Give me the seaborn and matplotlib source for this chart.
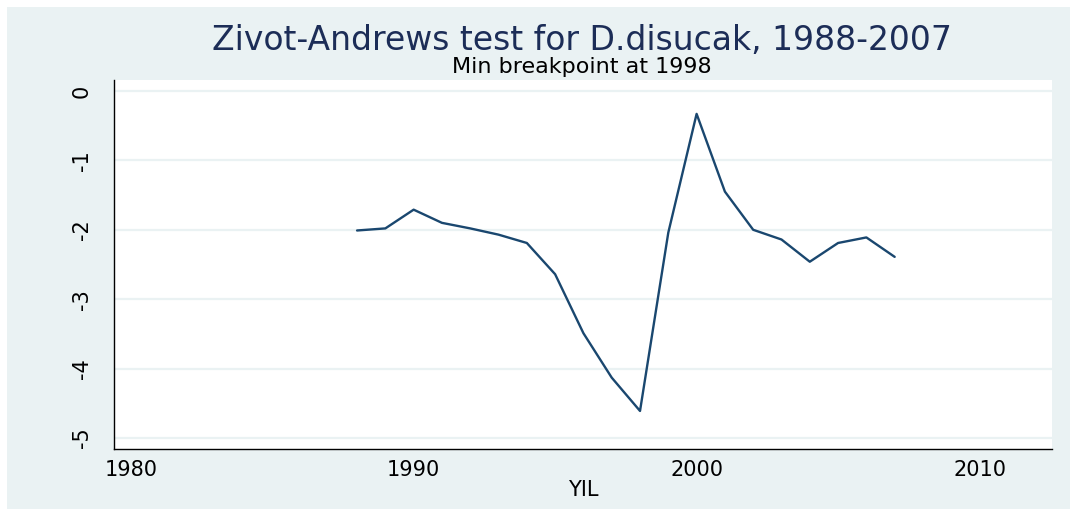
import matplotlib
matplotlib.use("Agg")
import matplotlib.pyplot as plt
from matplotlib.patches import Rectangle
import pandas as pd
import seaborn as sns

# Zivot-Andrews break test statistics by candidate break year
years = [1988, 1989, 1990, 1991, 1992, 1993, 1994, 1995, 1996, 1997,
         1998, 1999, 2000, 2001, 2002, 2003, 2004, 2005, 2006, 2007]
za_stat = [-2.01, -1.98, -1.71, -1.90, -1.98, -2.07, -2.19, -2.64, -3.49, -4.13,
           -4.61, -2.04, -0.33, -1.45, -2.00, -2.14, -2.46, -2.19, -2.11, -2.39]
x_ticks = [1980, 1990, 2000, 2010]
y_ticks = [0, -1, -2, -3, -4, -5]

title = "Zivot-Andrews test for D.disucak, 1988-2007"
subtitle = "Min breakpoint at 1998"
x_label = "YIL"

df = pd.DataFrame({"YIL": years, "stat": za_stat})

sns.set_style("white")
plt.rcParams["font.family"] = ["DejaVu Sans"]

bg = "#EAF2F3"
navy = "#1a476f"

fig = plt.figure(figsize=(10.77, 5.16), dpi=100, facecolor="white")
fig.patches.append(Rectangle((7 / 1077, 7 / 516), 1 - 14 / 1077, 1 - 14 / 516,
                             transform=fig.transFigure, facecolor=bg,
                             edgecolor="none", zorder=-10))

ax = fig.add_axes([114 / 1077, 1 - 449 / 516, (1052 - 114) / 1077, (449 - 80) / 516])
ax.set_zorder(1)
ax.set_facecolor("white")

sns.lineplot(data=df, x="YIL", y="stat", ax=ax, color=navy, linewidth=1.7)

ax.set_xlim(1979.41, 2012.56)
ax.set_ylim(-5.158, 0.158)
ax.set_xticks(x_ticks)
ax.set_yticks(y_ticks)
ax.set_yticklabels([str(v) for v in y_ticks], rotation=90, va="center")

ax.yaxis.grid(True, color=bg, linewidth=1.6)
ax.xaxis.grid(False)
ax.set_axisbelow(True)

for s in ["top", "right"]:
    ax.spines[s].set_visible(False)
for s in ["left", "bottom"]:
    ax.spines[s].set_color("black")
    ax.spines[s].set_linewidth(1.0)

ax.tick_params(axis="both", direction="out", length=7, width=0.8,
               color="#555555", labelsize=15, labelcolor="black", pad=9)
ax.tick_params(axis="x", pad=1)

ax.set_xlabel(x_label, fontsize=15, labelpad=0, color="black")
ax.set_ylabel("")

fig.text(0.5405, 1 - 40 / 516, title, ha="center", va="center",
         fontsize=23.8, color="#1c2d57")
fig.text(0.5405, 1 - 67 / 516, subtitle, ha="center", va="center",
         fontsize=16, color="black")

fig.savefig("out.png", dpi=100, facecolor=fig.get_facecolor())
